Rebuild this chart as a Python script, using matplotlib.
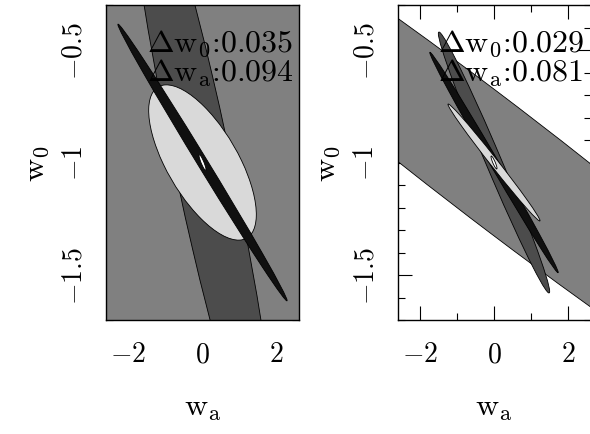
import numpy as np
import matplotlib
matplotlib.use("Agg")
import matplotlib.pyplot as plt
from matplotlib.patches import Ellipse
from matplotlib.ticker import MultipleLocator

plt.rcParams['mathtext.fontset'] = 'cm'
plt.rcParams['font.family'] = ['cmr10', 'DejaVu Serif']

# fiducial cosmology
wa_fid = 0.0
w0_fid = -1.0

# 1-sigma errors and w0-wa correlation of each constraint, back to front
left_sig_wa = [9.0, 2.0, 1.45, 2.28, 0.094]
left_sig_w0 = [2.2, 1.45, 0.345, 0.615, 0.035]
left_rho = [-0.5, -0.92, -0.67, -0.9975, -0.9]
left_fill = ['#808080', '#4c4c4c', '#d9d9d9', '#101010', '#ffffff']

right_sig_wa = [12.0, 1.5, 1.73, 1.24, 0.081]
right_sig_w0 = [1.529, 0.58, 0.49, 0.26, 0.029]
right_rho = [-0.977, -0.988, -0.997, -0.994, -0.9]
right_fill = ['#808080', '#4c4c4c', '#101010', '#d9d9d9', '#ffffff']

xticks = [-2, 0, 2]
xticklabels = ['$-2$', '$0$', '$2$']
yticks = [-1.5, -1.0, -0.5]
yticklabels = ['$-1.5$', '$-1$', '$-0.5$']


def cov_ellipse(sig_x, sig_y, rho, **kw):
    cov = np.array([[sig_x**2, rho * sig_x * sig_y],
                    [rho * sig_x * sig_y, sig_y**2]])
    vals, vecs = np.linalg.eigh(cov)
    big = vecs[:, 1]
    angle = np.degrees(np.arctan2(big[1], big[0]))
    return Ellipse((wa_fid, w0_fid), 2 * np.sqrt(vals[1]), 2 * np.sqrt(vals[0]),
                   angle=angle, **kw)


def panel(ax, sig_wa, sig_w0, rho, fills):
    for sx, sy, r, c in zip(sig_wa, sig_w0, rho, fills):
        ax.add_patch(cov_ellipse(sx, sy, r, facecolor=c, edgecolor='black',
                                 linewidth=0.6))
    ax.set_xlim(-2.6, 2.6)
    ax.set_ylim(-1.7, -0.3)
    ax.set_axisbelow(True)
    ax.xaxis.set_minor_locator(MultipleLocator(1))
    ax.yaxis.set_minor_locator(MultipleLocator(0.1))
    ax.set_xticks(xticks, xticklabels, fontsize=20)
    ax.set_yticks(yticks, yticklabels, fontsize=20, rotation=90, va='center')
    ax.tick_params(which='both', direction='in', top=True, right=True,
                   width=0.8, color='black')
    ax.tick_params(which='major', length=10)
    ax.tick_params(which='minor', length=5)
    ax.tick_params(axis='x', pad=15)
    ax.tick_params(axis='y', pad=13)
    for s in ax.spines.values():
        s.set_linewidth(1.0)
    ax.set_xlabel(r'$\mathrm{w}_\mathrm{a}$', fontsize=23, labelpad=20)
    ax.set_ylabel(r'$\mathrm{w}_0$', fontsize=23, labelpad=8)
    ax.text(0.212, 0.854, r'$\Delta\mathrm{w}_0$:%.3f' % sig_w0[-1],
            transform=ax.transAxes, fontsize=23, va='baseline', zorder=5)
    ax.text(0.212, 0.759, r'$\Delta\mathrm{w}_\mathrm{a}$:%.3f' % sig_wa[-1],
            transform=ax.transAxes, fontsize=23, va='baseline', zorder=5)


fig = plt.figure(figsize=(5.9, 4.35), dpi=100)
ax1 = fig.add_axes([106 / 590, 114 / 435, 193 / 590, 315 / 435])
ax2 = fig.add_axes([397.5 / 590, 114 / 435, 193 / 590, 315 / 435])

panel(ax1, left_sig_wa, left_sig_w0, left_rho, left_fill)
panel(ax2, right_sig_wa, right_sig_w0, right_rho, right_fill)

fig.savefig('out.png', dpi=100)
